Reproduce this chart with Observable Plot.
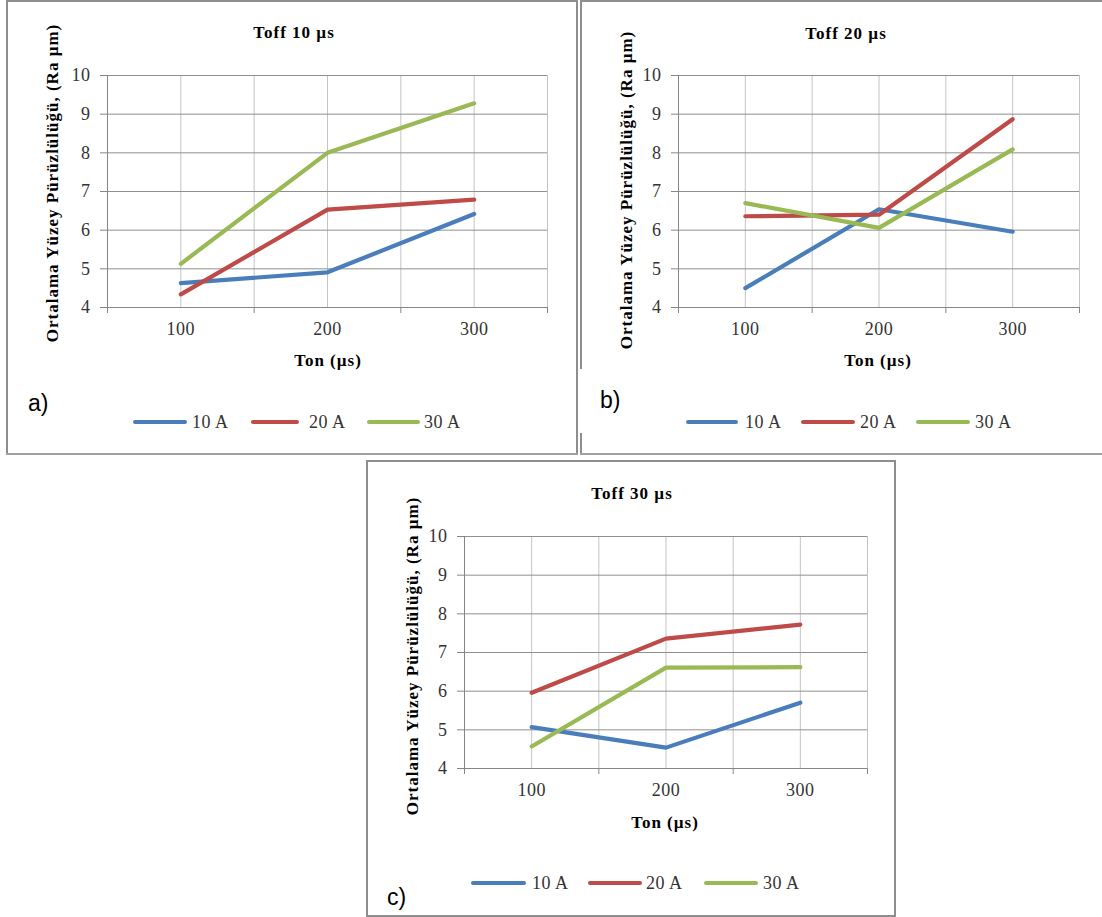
<!DOCTYPE html>
<html>
<head>
<meta charset="utf-8">
<script src="https://cdn.jsdelivr.net/npm/d3@7"></script>
<script src="https://cdn.jsdelivr.net/npm/@observablehq/plot@0.6"></script>
<style>
  html, body { margin: 0; padding: 0; background: #fff; }
  #root { position: relative; width: 1102px; height: 917px; overflow: hidden; background: #fff; }
  .abs { position: absolute; white-space: nowrap; line-height: 1; }
  .ttl { font-family: "Liberation Serif", "Times New Roman", serif; font-weight: bold; font-size: 17px; letter-spacing: 1px; color: #000; }
  .leg { font-family: "Liberation Serif", "Times New Roman", serif; font-size: 18px; letter-spacing: 0.5px; color: #333; }
  .let { font-family: "Liberation Sans", Arial, sans-serif; font-size: 23px; color: #000; }
  .ln { position: absolute; background: #8e8e8e; }
  svg text { letter-spacing: 0.5px; }
</style>
</head>
<body>
<div id="root"></div>
<script>
// ---- data ----
const tonValues = [100, 200, 300];
const xTickLabels = ["100", "200", "300"];
const yTicks = [4, 5, 6, 7, 8, 9, 10];
const currents = ["10 A", "20 A", "30 A"];
const panelTitles = ["Toff 10 µs", "Toff 20 µs", "Toff 30 µs"];
const panelLetters = ["a)", "b)", "c)"];
const yTitle = "Ortalama Yüzey Pürüzlülüğü, (Ra µm)";
const xTitle = "Ton (µs)";

const toff10_10A = [4.63, 4.91, 6.42];
const toff10_20A = [4.34, 6.53, 6.79];
const toff10_30A = [5.13, 8.00, 9.28];

const toff20_10A = [4.50, 6.54, 5.96];
const toff20_20A = [6.36, 6.40, 8.87];
const toff20_30A = [6.70, 6.06, 8.09];

const toff30_10A = [5.07, 4.54, 5.70];
const toff30_20A = [5.96, 7.36, 7.72];
const toff30_30A = [4.57, 6.61, 6.62];

const seriesColors = ["#4A7EBB", "#BE4B48", "#98B954"];

function table(a, b, c) {
  const rows = [];
  [a, b, c].forEach((vals, s) => vals.forEach((v, i) => rows.push({ton: tonValues[i], ra: v, current: currents[s]})));
  return rows;
}
const panelData = [
  table(toff10_10A, toff10_20A, toff10_30A),
  table(toff20_10A, toff20_20A, toff20_30A),
  table(toff30_10A, toff30_20A, toff30_30A)
];

// ---- layout ----
const layouts = [
  {left: 107, right: 547, top: 75, bottom: 307, title: [294, 32], ytitle: [52, 182.5], xtitle: [328, 360], letter: [28, 403], legY: 421.7,
   legend: [[133, 187, 192], [251, 299, 309], [367, 420, 424]]},
  {left: 678, right: 1079, top: 75, bottom: 307, title: [846, 33], ytitle: [626, 189.5], xtitle: [878, 360], letter: [600, 400], legY: 421.7,
   legend: [[686, 738, 745], [801, 855, 860], [916, 970, 975]]},
  {left: 464, right: 867, top: 536, bottom: 768, title: [632, 493], ytitle: [412, 655.5], xtitle: [665, 822], letter: [387, 897], legY: 883,
   legend: [[471, 526, 532], [588, 642, 646], [704, 758, 763]]}
];

const root = document.getElementById("root");

function line(x, y, w, h, color) {
  const d = document.createElement("div");
  d.className = "ln";
  d.style.left = x + "px"; d.style.top = y + "px"; d.style.width = w + "px"; d.style.height = h + "px";
  if (color) d.style.background = color;
  root.appendChild(d);
}
function text(str, x, y, cls, mode) {
  const d = document.createElement("div");
  d.className = "abs " + cls;
  d.textContent = str;
  d.style.left = x + "px"; d.style.top = y + "px";
  if (mode === "center") d.style.transform = "translate(-50%, -50%)";
  else if (mode === "rot") d.style.transform = "translate(-50%, -50%) rotate(-90deg)";
  else d.style.transform = "translate(0, -50%)";
  root.appendChild(d);
  return d;
}

// frames
line(6, 0, 572, 1.5); line(6, 0, 2, 455); line(576, 0, 2, 455); line(6, 453, 572, 2, "#a0a0a0");
line(580, 0, 522, 1.5); line(580, 0, 2, 369); line(580, 433, 2, 22); line(580, 453, 522, 2, "#a0a0a0");
line(366, 460, 530, 2); line(366, 460, 2, 457); line(894, 460, 2, 457); line(366, 915, 530, 2);

const mL = 50, mR = 8, mT = 8, mB = 45;

layouts.forEach((L, p) => {
  const w = L.right - L.left, h = L.bottom - L.top;
  const chart = Plot.plot({
    width: w + mL + mR,
    height: h + mT + mB,
    marginLeft: mL, marginRight: mR, marginTop: mT, marginBottom: mB,
    style: {fontFamily: "'Liberation Serif', 'Times New Roman', serif", fontSize: "18px", color: "#333", background: "transparent", overflow: "visible"},
    x: {type: "linear", domain: [50, 350], label: null},
    y: {domain: [4, 10], label: null},
    color: {domain: currents, range: seriesColors},
    marks: [
      Plot.gridX([50, 100, 150, 200, 250, 300, 350], {stroke: "#c4c4c4", strokeOpacity: 1}),
      Plot.gridY(yTicks, {stroke: "#8f8f8f", strokeOpacity: 1}),
      Plot.ruleX([50], {stroke: "#868686"}),
      Plot.ruleY([4], {stroke: "#868686"}),
      Plot.axisY(yTicks, {tickSize: 7, tickPadding: 10, stroke: "#868686", fill: "#333", label: null}),
      Plot.axisX([50, 150, 250, 350], {tickSize: 6, tickFormat: () => "", stroke: "#868686", label: null}),
      Plot.axisX(tonValues, {tickSize: 0, tickPadding: 15, tickFormat: (d, i) => xTickLabels[i], fill: "#333", label: null}),
      Plot.line(panelData[p], {x: "ton", y: "ra", stroke: "current", z: "current", strokeWidth: 4.2, strokeLinecap: "round", strokeLinejoin: "round"})
    ]
  });
  chart.style.position = "absolute";
  chart.style.left = (L.left - mL) + "px";
  chart.style.top = (L.top - mT) + "px";
  root.appendChild(chart);

  text(panelTitles[p], L.title[0], L.title[1], "ttl", "center");
  text(yTitle, L.ytitle[0], L.ytitle[1], "ttl", "rot");
  text(xTitle, L.xtitle[0], L.xtitle[1], "ttl", "center");
  text(panelLetters[p], L.letter[0], L.letter[1], "let", "left");
  L.legend.forEach(([x0, x1, tx], s) => {
    const sw = document.createElement("div");
    sw.style.position = "absolute";
    sw.style.left = x0 + "px"; sw.style.top = (L.legY - 2.2) + "px";
    sw.style.width = (x1 - x0) + "px"; sw.style.height = "4.4px";
    sw.style.borderRadius = "2.2px";
    sw.style.background = seriesColors[s];
    root.appendChild(sw);
    text(currents[s], tx, L.legY, "leg", "left");
  });
});
</script>
</body>
</html>
